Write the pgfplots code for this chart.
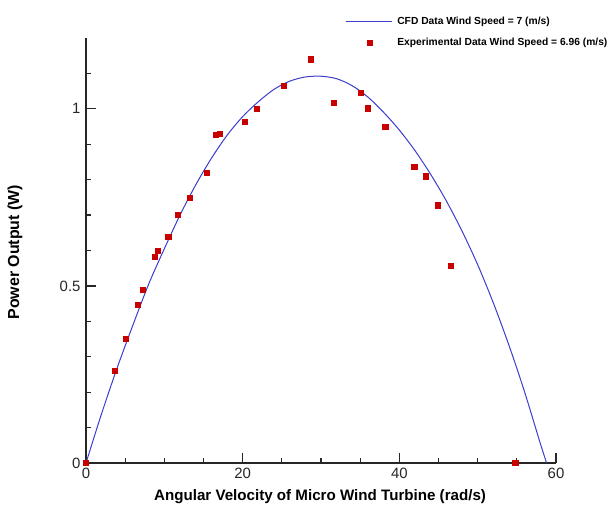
\documentclass[border=0pt]{standalone}
\usepackage{fontspec}
\setmainfont{Liberation Sans}
\usepackage{pgfplots}
\pgfplotsset{compat=1.18}
\definecolor{cfdblue}{RGB}{60,60,205}
\definecolor{expred}{RGB}{200,0,0}
\begin{document}
\begin{tikzpicture}
\path[use as bounding box] (-86bp,-48bp) rectangle (523bp,463bp);
\begin{axis}[
  at={(0,0)}, anchor=south west,
  scale only axis, width=470bp, height=425bp,
  xmin=0, xmax=60, ymin=0, ymax=1.2,
  axis lines*=left,
  axis line style={line width=1.3bp, black!85},
  every tick/.style={black!85, line width=1.2bp},
  tick align=inside,
  major tick length=10bp, minor tick length=5bp,
  xtick={0,20,40,60}, minor xtick={5,10,15,25,30,35,45,50,55},
  ytick={0,0.5,1}, minor ytick={0.1,0.2,0.3,0.4,0.6,0.7,0.8,0.9,1.1},
  ticklabel style={font=\fontsize{15}{17}\selectfont, text=black!85},
  xticklabel style={yshift=-2bp},
  yticklabel style={xshift=-2bp},
  /pgf/number format/assume math mode=true,
  clip=false,
  xlabel={Angular Velocity of Micro Wind Turbine (rad/s)},
  ylabel={Power Output (W)},
  xlabel style={font=\bfseries\fontsize{15.2}{17}\selectfont, at={(axis description cs:0.498,-0.08)}, anchor=center},
  ylabel style={font=\bfseries\fontsize{16}{18}\selectfont, at={(axis description cs:-0.151,0.496)}, anchor=center},
  legend style={at={(axis description cs:0.545,1.06)}, anchor=north west, draw=none, fill=none,
    font=\bfseries\fontsize{10.3}{12}\selectfont, row sep=8.5bp},
  legend cell align=left,
  legend image code/.code={\draw[mark repeat=2,mark phase=2,#1] plot coordinates {(0bp,0bp) (23.5bp,0bp) (46bp,0bp)}; \path (49bp,0bp);},
]
\addplot[cfdblue, line width=1bp, smooth, no marks] coordinates {
(0,0) (2,0.14) (4,0.27) (6,0.39) (8,0.505) (10,0.605) (12,0.70) (14,0.785)
(16,0.86) (18,0.925) (20,0.978) (22,1.02) (24,1.055) (26,1.078) (28,1.09)
(30,1.092) (32,1.085) (34,1.065) (36,1.033) (38,0.99) (40,0.94) (42,0.882)
(44,0.815) (46,0.74) (48,0.655) (50,0.56) (52,0.452) (54,0.332) (56,0.2)
(58,0.055) (58.8,0)
};
\addlegendentry{CFD Data Wind Speed = 7 (m/s)}
\addplot[only marks, mark=square*, mark size=2.6bp, color=expred] coordinates {
(0,0) (3.7,0.26) (5.1,0.35) (6.6,0.446) (7.2,0.49) (8.8,0.582) (9.2,0.599)
(10.5,0.64) (11.7,0.70) (13.2,0.75) (15.4,0.82) (16.6,0.928) (17.1,0.93)
(20.3,0.963) (21.8,1.0) (25.2,1.066) (28.7,1.14) (31.6,1.018) (35.1,1.046)
(36.0,1.002) (38.2,0.95) (41.9,0.836) (43.4,0.81) (44.9,0.728) (46.6,0.556)
(54.8,0)
};
\addlegendentry{Experimental Data Wind Speed = 6.96 (m/s)}
\end{axis}
\end{tikzpicture}
\end{document}
